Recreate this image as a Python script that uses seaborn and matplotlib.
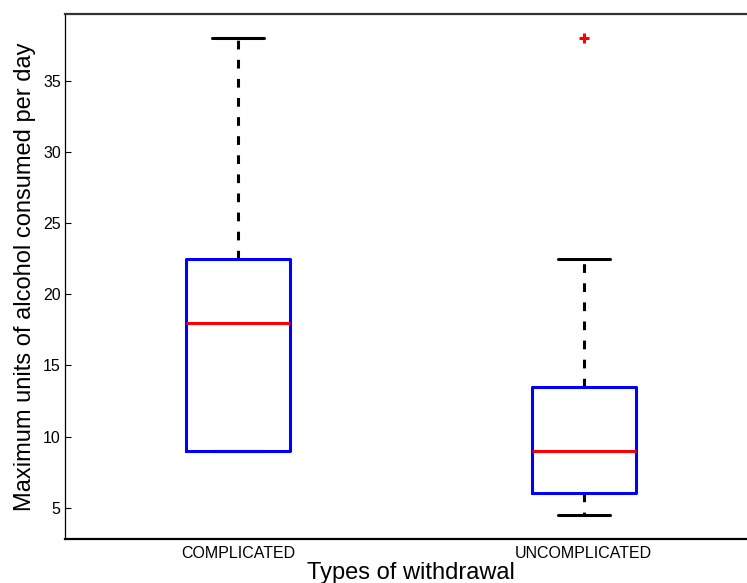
import matplotlib
matplotlib.use("Agg")
import matplotlib.pyplot as plt
import seaborn as sns
import pandas as pd

# ---- data ----
categories = ["COMPLICATED", "UNCOMPLICATED"]
complicated_units = [9, 9, 18, 22.5, 38]
uncomplicated_units = [4.5, 6, 6, 9, 9, 13.5, 13.5, 22.5, 38]
y_ticks = [5, 10, 15, 20, 25, 30, 35]
x_label = "Types of withdrawal"
y_label = "Maximum units of alcohol consumed per day"

df = pd.DataFrame({
    "group": [categories[0]] * len(complicated_units) + [categories[1]] * len(uncomplicated_units),
    "units": complicated_units + uncomplicated_units,
})

sns.set_style("white")
plt.rcParams["font.family"] = ["Liberation Sans", "DejaVu Sans"]
plt.rcParams["text.color"] = "black"
plt.rcParams["axes.labelcolor"] = "black"

W, H = 747, 583
fig = plt.figure(figsize=(W / 100, H / 100), dpi=100)
ax_left, ax_right = 65.3, 756.5
ax_top, ax_bot = 14.0, 538.7
ax = fig.add_axes([ax_left / W, (H - ax_bot) / H, (ax_right - ax_left) / W, (ax_bot - ax_top) / H])

lw = 2.2
sns.boxplot(
    data=df, x="group", y="units", order=categories, ax=ax,
    fill=False, width=0.3, whis=1.5, linewidth=lw,
    boxprops=dict(color="#0000ff", linewidth=lw, zorder=4),
    medianprops=dict(color="#ff0000", linewidth=lw, zorder=5),
    whiskerprops=dict(color="black", linewidth=lw, linestyle=(0, (2.85, 3.4)), zorder=2),
    capprops=dict(color="black", linewidth=lw, zorder=2),
    flierprops=dict(marker="+", markeredgecolor="#ff0000", markerfacecolor="#ff0000",
                    markersize=7.5, markeredgewidth=2.2),
    capwidths=0.15,
)

ax.set_xlim(-0.5, 1.5)
ax.set_ylim(2.825, 39.675)
ax.set_yticks(y_ticks)
ax.set_yticklabels([str(t) for t in y_ticks])
ax.tick_params(axis="y", direction="in", length=4.3, width=0.8, pad=3.3, labelsize=11.5,
               colors="black", left=True)
ax.tick_params(axis="x", length=0, pad=5, labelsize=11.5, colors="black")

for side in ["top", "bottom", "left", "right"]:
    ax.spines[side].set_visible(True)
ax.spines["top"].set_color("#333333")
ax.spines["top"].set_linewidth(1.6)
ax.spines["bottom"].set_color("black")
ax.spines["bottom"].set_linewidth(1.6)
ax.spines["left"].set_color("black")
ax.spines["left"].set_linewidth(0.9)

ax.set_xlabel(x_label, fontsize=17, color="black")
ax.set_ylabel(y_label, fontsize=17, color="black")
ax.xaxis.set_label_coords(0.5, -0.045)
ax.yaxis.set_label_coords(-0.043, 0.5)

fig.savefig("out.png", dpi=100)
